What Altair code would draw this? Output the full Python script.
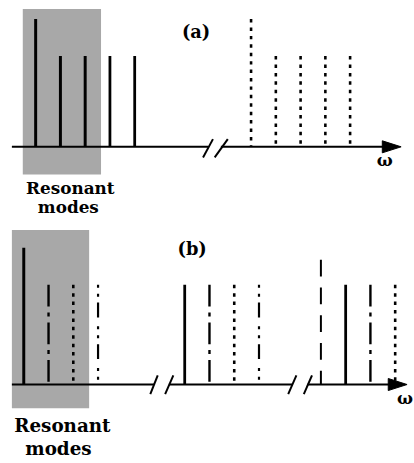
import altair as alt
import pandas as pd

# ---------------- data ----------------
# panel (a): mode frequencies (arb. units), amplitudes, line styles
a_pos = [1, 2, 3, 4, 5, 9.7, 10.7, 11.7, 12.7, 13.7]
a_amp = [1.0, 0.71, 0.71, 0.71, 0.71, 1.0, 0.71, 0.71, 0.71, 0.71]
a_style = ["solid_thick", "solid_thick", "solid_thick", "solid_thin", "solid_thin",
           "dotted", "dotted", "dotted", "dotted", "dotted"]

# panel (b)
b_pos = [1, 2, 3, 4, 7.5, 8.5, 9.5, 10.5, 13, 14, 15, 16]
b_amp = [1.0, 0.73, 0.73, 0.73, 0.73, 0.73, 0.73, 0.73, 0.913, 0.73, 0.73, 0.73]
b_style = ["solid_thick", "dashdot", "dotted", "dashdotdot",
           "solid_thin", "dashdot", "dotted", "dashdotdot",
           "longdash", "solid_thin", "dashdot", "dotted"]

# axis segments (start, end) in frequency units, broken at the "//" marks
a_axis_start = [0.04, 8.48]
a_axis_end = [7.96, 15.2]
b_axis_start = [0.52, 6.86, 12.46]
b_axis_end = [6.26, 11.84, 15.9]

# arrow heads: tail x, tip x, half height
a_arrow = (15.0, 15.76, 0.047)
b_arrow = (15.72, 16.48, 0.044)

# break marks
a_brk_x1 = [7.76, 8.23]
a_brk_x2 = [8.16, 8.76]
b_brk_x1 = [6.11, 6.71, 11.68, 12.31]
b_brk_x2 = [6.41, 7.04, 12.01, 12.64]
a_brk_y = (-0.083, 0.06)
b_brk_y = (-0.07, 0.067)

# shaded "resonant" region
a_shade = dict(x=0.48, x2=3.64, y=-0.217, y2=1.078)
b_shade = dict(x=0.52, x2=3.64, y=-0.174, y2=1.13)

# labels
a_labels = ["(a)", "Resonant", "modes", "ω"]
a_lx = [7.48, 2.4, 2.32, 15.1]
a_ly = [0.891, -0.372, -0.519, -0.109]
b_labels = ["(b)", "Resonant", "modes", "ω"]
b_lx = [7.8, 2.56, 2.4, 16.4]
b_ly = [0.986, -0.348, -0.514, -0.109]

a_xdom = [-0.44, 16.12]
a_ydom = [-0.6512, 1.1318]
b_xdom = [0.04, 16.6]
b_ydom = [-0.558, 1.1304]

styles = ["solid_thick", "solid_thin", "dotted", "dashdot", "dashdotdot", "longdash"]
dashes = [[1, 0], [1, 0], [3.5, 5], [22, 6, 4, 6], [3, 6, 3, 6, 15, 9], [17, 11]]
widths = [3, 2, 3.2, 3, 2.6, 4]

SERIF = "DejaVu Serif"


def panel(pos, amp, style, ax_s, ax_e, arrow_spec, bx1, bx2, by, shade, labels, lx, ly,
          xdom, ydom, height, label_sizes):
    xs = alt.Scale(domain=xdom, nice=False, zero=False)
    ys = alt.Scale(domain=ydom, nice=False, zero=False)

    shade_df = pd.DataFrame([shade])
    rect = alt.Chart(shade_df).mark_rect(color="#a8a8a8").encode(
        x=alt.X("x:Q", scale=xs, axis=None), x2="x2:Q",
        y=alt.Y("y:Q", scale=ys, axis=None), y2="y2:Q")

    ax_df = pd.DataFrame({"s": ax_s, "e": ax_e, "zero": [0.0] * len(ax_s)})
    axis_line = alt.Chart(ax_df).mark_rule(color="black", strokeWidth=2).encode(
        x=alt.X("s:Q", scale=xs, axis=None), x2="e:Q",
        y=alt.Y("zero:Q", scale=ys, axis=None))

    brk_df = pd.DataFrame({"x1": bx1, "x2": bx2,
                           "y1": [by[0]] * len(bx1), "y2": [by[1]] * len(bx1)})
    brk = alt.Chart(brk_df).mark_rule(color="black", strokeWidth=2).encode(
        x=alt.X("x1:Q", scale=xs, axis=None), x2="x2:Q",
        y=alt.Y("y1:Q", scale=ys, axis=None), y2="y2:Q")

    # arrow head as a filled triangle polygon (closed path)
    tail, tip, hh = arrow_spec
    arr_df = pd.DataFrame({"x": [tail, tip, tail, tail], "y": [hh, 0.0, -hh, hh],
                           "o": [0, 1, 2, 3]})
    arrow = alt.Chart(arr_df).mark_line(color="black", fill="black", strokeWidth=1,
                                        strokeJoin="miter").encode(
        x=alt.X("x:Q", scale=xs, axis=None),
        y=alt.Y("y:Q", scale=ys, axis=None), order="o:Q")

    sp_df = pd.DataFrame({"pos": pos, "amp": amp, "style": style,
                          "base": [0.0] * len(pos)})
    spikes = alt.Chart(sp_df).mark_rule(color="black").encode(
        x=alt.X("pos:Q", scale=xs, axis=None),
        y=alt.Y("amp:Q", scale=ys, axis=None), y2="base:Q",
        strokeDash=alt.StrokeDash("style:N", scale=alt.Scale(domain=styles, range=dashes),
                                  legend=None),
        strokeWidth=alt.StrokeWidth("style:N", scale=alt.Scale(domain=styles, range=widths),
                                    legend=None))

    texts = []
    for i, (t, x, y) in enumerate(zip(labels, lx, ly)):
        df = pd.DataFrame({"t": [t], "x": [x], "y": [y]})
        base = "middle" if i in (0, 3) else "alphabetic"
        texts.append(alt.Chart(df).mark_text(font=SERIF, fontSize=label_sizes[i],
                                             fontWeight="bold", align="center",
                                             baseline=base, color="black").encode(
            x=alt.X("x:Q", scale=xs, axis=None), y=alt.Y("y:Q", scale=ys, axis=None),
            text="t:N"))

    return alt.layer(rect, axis_line, brk, arrow, spikes, *texts).properties(
        width=414, height=height)


pa = panel(a_pos, a_amp, a_style, a_axis_start, a_axis_end, a_arrow, a_brk_x1, a_brk_x2,
           a_brk_y, a_shade, a_labels, a_lx, a_ly, a_xdom, a_ydom, 230,
           [18, 17, 17, 17])
pb = panel(b_pos, b_amp, b_style, b_axis_start, b_axis_end, b_arrow, b_brk_x1, b_brk_x2,
           b_brk_y, b_shade, b_labels, b_lx, b_ly, b_xdom, b_ydom, 233,
           [18, 18.5, 18.5, 17])

chart = alt.vconcat(pa, pb, spacing=0).properties(
    padding=0, background="white").configure_view(stroke=None)

chart.save("out.html", embed_options={"renderer": "svg", "actions": False})
